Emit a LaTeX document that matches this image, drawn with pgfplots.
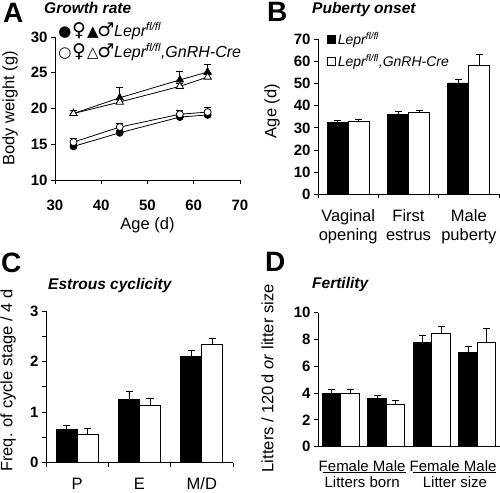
\documentclass[border=0pt]{standalone}
\usepackage{fontspec}
\setmainfont{Liberation Sans}
\newfontfamily\symfont{DejaVu Sans}
\usepackage{pgfplots}
\pgfplotsset{compat=1.18}
\pgfplotsset{
  panelax/.style={
    scale only axis, clip=false,
    axis x line*=bottom, axis y line*=left,
    axis line style={line width=0.9pt, black},
    tick style={black, line width=0.9pt},
    tick align=outside, major tick length=4pt, minor tick length=4pt,
    /pgf/number format/assume math mode=true,
    tick label style={font=\fontsize{15}{15}\selectfont\bfseries},
    label style={font=\fontsize{16.5}{18}\selectfont},
    error bars/y dir=plus, error bars/y explicit,
    error bars/error bar style={line width=0.8pt, black},
    error bars/error mark options={rotate=90, mark size=3.5pt, line width=0.8pt, black},
  },
  barax/.style={panelax, ybar=0pt, bar width=#1},
  blk/.style={fill=black, draw=black, line width=0.8pt},
  wht/.style={fill=white, draw=black, line width=0.8pt},
}
\begin{document}
\begin{tikzpicture}
\path (0pt,0pt) rectangle (500pt,492pt);
% ---------------- Panel A ----------------
\begin{axis}[panelax, at={(55pt,312pt)}, anchor=south west, width=185pt, height=143pt,
  xmin=30, xmax=70, ymin=10, ymax=30,
  xtick={30,40,50,60,70}, ytick={10,15,20,25,30},
  xticklabel style={anchor=base, yshift=-27pt},
  xlabel={Age (d)}, ylabel={Body weight (g)},
  xlabel style={at={(axis description cs:0.5,0)}, anchor=center, yshift=-45pt},
  ylabel style={at={(axis description cs:-0.243,0.5)}, anchor=center},
]
\addplot[black, line width=0.8pt, mark=*, mark size=3.5pt, mark options={fill=black, solid}]
  coordinates {(34,14.7) +- (0,0.3) (44,16.6) +- (0,0.3) (57,18.8) +- (0,0.3) (63,19.1) +- (0,0.3)};
\addplot[black, line width=0.8pt, mark=triangle*, mark size=4.2pt, mark options={fill=black, solid}]
  coordinates {(34,19.3) +- (0,0.5) (44,21.5) +- (0,1.4) (57,24.0) +- (0,1.2) (63,25.1) +- (0,1.1)};
\addplot[black, line width=0.8pt, mark=*, mark size=3.5pt, mark options={fill=white, solid}]
  coordinates {(34,15.3) +- (0,0.5) (44,17.4) +- (0,0.5) (57,19.2) +- (0,0.5) (63,19.5) +- (0,0.6)};
\addplot[black, line width=0.8pt, mark=triangle*, mark size=4.2pt, mark options={fill=white, solid}]
  coordinates {(34,19.3) +- (0,0.5) (44,20.9) +- (0,0.5) (57,23.1) +- (0,0.4) (63,24.4) +- (0,0.4)};
\end{axis}
% legend A (text)
\node[anchor=base, font=\symfont\fontsize{15}{15}\selectfont] at (65pt,455pt) {●};
\node[anchor=base, font=\symfont\fontsize{19}{19}\selectfont] at (79pt,455pt) {♀};
\node[anchor=base, font=\symfont\fontsize{15}{15}\selectfont] at (93pt,455pt) {▲};
\node[anchor=base, font=\symfont\fontsize{19}{19}\selectfont] at (106pt,455pt) {♂};
\node[anchor=base west, inner sep=0pt, font=\fontsize{16}{16}\selectfont\itshape] at (114pt,455pt) {Lepr\textsuperscript{fl/fl}};
\node[anchor=base, font=\symfont\fontsize{15}{15}\selectfont] at (65pt,434pt) {○};
\node[anchor=base, font=\symfont\fontsize{19}{19}\selectfont] at (79pt,434pt) {♀};
\node[anchor=base, font=\symfont\fontsize{15}{15}\selectfont] at (93pt,434pt) {△};
\node[anchor=base, font=\symfont\fontsize{19}{19}\selectfont] at (106pt,434pt) {♂};
\node[anchor=base west, inner sep=0pt, font=\fontsize{16}{16}\selectfont\itshape] at (114pt,434pt) {Lepr\textsuperscript{fl/fl},GnRH-Cre};
% ---------------- Panel B ----------------
\begin{axis}[barax=21pt, at={(318pt,297.7pt)}, anchor=south west, width=181pt, height=155pt,
  xmin=0.5, xmax=3.5, ymin=0, ymax=70, ytick={0,10,...,70},
  xtick={1,2,3}, xticklabels={{Vaginal\\opening},{First\\estrus},{Male\\puberty}},
  xticklabel style={align=center, anchor=north, yshift=-8pt, font=\fontsize{16.5}{19}\selectfont},
  major x tick style={draw=none},
  minor xtick={0.5,1.5,2.5,3.5},
  ylabel={Age (d)},
  ylabel style={at={(axis description cs:-0.254,0.537)}, anchor=center},
  legend style={at={(axis description cs:0.05,1.06)}, anchor=north west, draw=none, fill=none,
    inner sep=0pt, row sep=4pt, font=\fontsize{14}{16}\selectfont\itshape,
    /tikz/every even column/.style={column sep=3pt}},
  legend cell align=left,
  legend image code/.code={\draw[#1, line width=0.6pt] (0pt,-4pt) rectangle (8pt,4pt);},
]
\addplot[blk] coordinates {(1,32.4) +- (0,1.0) (2,36.2) +- (0,1.2) (3,50.3) +- (0,1.5)};
\addlegendentry{Lepr\textsuperscript{fl/fl}}
\addplot[wht] coordinates {(1,32.9) +- (0,0.8) (2,37.0) +- (0,1.0) (3,58.4) +- (0,4.8)};
\addlegendentry{Lepr\textsuperscript{fl/fl},GnRH-Cre}
\end{axis}
% ---------------- Panel C ----------------
\begin{axis}[barax=21pt, at={(46pt,29.3pt)}, anchor=south west, width=187pt, height=151.7pt,
  xmin=0.5, xmax=3.5, ymin=0, ymax=3, ytick={0,1,2,3}, minor ytick={0.5,1.5,2.5},
  xtick={1,2,3}, xticklabels={P,E,M/D},
  xticklabel style={anchor=base, yshift=-22.5pt, font=\fontsize{16.5}{19}\selectfont},
  major x tick style={draw=none},
  minor xtick={0.5,1.5,2.5,3.5},
  ylabel={Freq. of cycle stage / 4 d},
  ylabel style={at={(axis description cs:-0.203,0.54)}, anchor=center},
]
\addplot[blk] coordinates {(1,0.65) +- (0,0.09) (2,1.25) +- (0,0.16) (3,2.10) +- (0,0.13)};
\addplot[wht] coordinates {(1,0.56) +- (0,0.12) (2,1.13) +- (0,0.14) (3,2.33) +- (0,0.13)};
\end{axis}
% ---------------- Panel D ----------------
\begin{axis}[barax=18.5pt, at={(318pt,45.3pt)}, anchor=south west, width=182pt, height=134pt,
  xmin=0.5, xmax=4.5, ymin=0, ymax=10, ytick={0,2,...,10},
  xtick={1,2,3,4}, xticklabels={Female,Male,Female,Male},
  xticklabel style={anchor=base, yshift=-21pt, xshift=3pt, font=\fontsize{15}{17}\selectfont},
  major x tick style={draw=none},
  ylabel={Litters / 120\,d \textit{or} litter size},
  ylabel style={at={(axis description cs:-0.277,0.51)}, anchor=center},
]
\addplot[blk] coordinates {(1,4.0) +- (0,0.25) (2,3.6) +- (0,0.2) (3,7.8) +- (0,0.5) (4,7.0) +- (0,0.45)};
\addplot[wht] coordinates {(1,4.0) +- (0,0.25) (2,3.15) +- (0,0.32) (3,8.45) +- (0,0.5) (4,7.8) +- (0,1.03)};
\draw[line width=0.8pt] ([yshift=-26pt]axis cs:0.6,0) -- ([yshift=-26pt]axis cs:2.43,0);
\draw[line width=0.8pt] ([yshift=-26pt]axis cs:2.58,0) -- ([yshift=-26pt]axis cs:4.42,0);
\node[anchor=base, font=\fontsize{15}{17}\selectfont] at ([yshift=-41pt]axis cs:1.47,0) {Litters born};
\node[anchor=base, font=\fontsize{15}{17}\selectfont] at ([yshift=-41pt]axis cs:3.51,0) {Litter size};
\end{axis}
% ---------------- Panel letters and titles ----------------
\node[anchor=base west, inner sep=0pt, font=\fontsize{28}{28}\selectfont\bfseries] at (3pt,469pt) {A};
\node[anchor=base west, inner sep=0pt, font=\fontsize{15.5}{16}\selectfont\bfseries\itshape] at (44pt,478pt) {Growth rate};
\node[anchor=base west, inner sep=0pt, font=\fontsize{28}{28}\selectfont\bfseries] at (267pt,470pt) {B};
\node[anchor=base west, inner sep=0pt, font=\fontsize{15.5}{16}\selectfont\bfseries\itshape] at (312pt,478pt) {Puberty onset};
\node[anchor=base west, inner sep=0pt, font=\fontsize{28}{28}\selectfont\bfseries] at (1pt,219pt) {C};
\node[anchor=base west, inner sep=0pt, font=\fontsize{15.5}{16}\selectfont\bfseries\itshape] at (48pt,202pt) {Estrous cyclicity};
\node[anchor=base west, inner sep=0pt, font=\fontsize{28}{28}\selectfont\bfseries] at (265pt,220pt) {D};
\node[anchor=base west, inner sep=0pt, font=\fontsize{15.5}{16}\selectfont\bfseries\itshape] at (312pt,203pt) {Fertility};
\pgfresetboundingbox
\path (0pt,0pt) rectangle (500pt,492pt);
\end{tikzpicture}
\end{document}
